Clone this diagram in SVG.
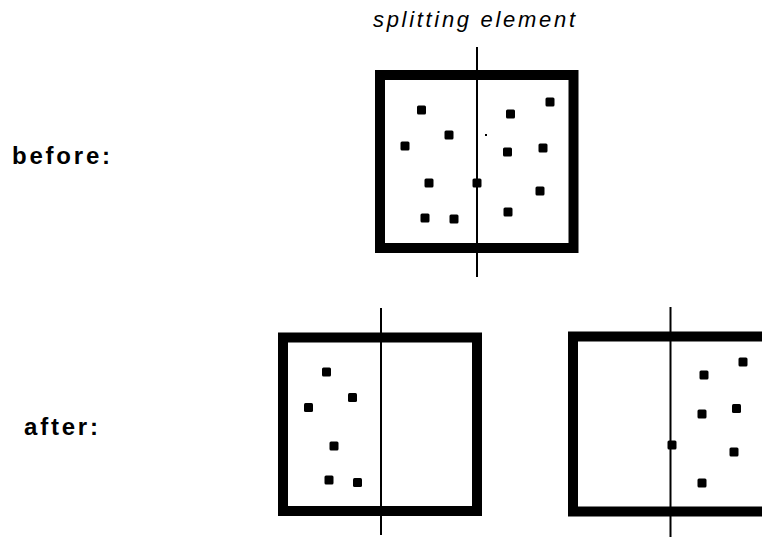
<svg xmlns="http://www.w3.org/2000/svg" width="762" height="537" viewBox="0 0 762 537">
<style>
.box{fill:none;stroke:#000;stroke-width:10}
.axis{stroke:#000;stroke-width:2}
.dot{fill:#000}
.lbl{font-family:"Liberation Sans",Arial,sans-serif;font-weight:bold;font-size:24px;fill:#000}
.ttl{font-family:"Liberation Sans",Arial,sans-serif;font-style:italic;font-size:22px;fill:#000}
</style>
<defs>
<rect id="d" x="-4.5" y="-4.5" width="9" height="9" rx="1.5" class="dot"/>
</defs>
<rect width="762" height="537" fill="#fff"/>
<text class="ttl" x="373" y="27" textLength="202" lengthAdjust="spacing">splitting element</text>
<text class="lbl" x="12" y="164" textLength="98" lengthAdjust="spacing">before:</text>
<text class="lbl" x="24" y="435" textLength="74" lengthAdjust="spacing">after:</text>
<g id="connectors">
<line class="axis" x1="477" y1="47" x2="477" y2="277"/>
<line class="axis" x1="381" y1="308" x2="381" y2="535"/>
<line class="axis" x1="670.5" y1="307" x2="670.5" y2="537"/>
</g>
<g id="before-box">
<rect class="box" x="380" y="75" width="193.5" height="173"/>
<use href="#d" x="421.5" y="110"/>
<use href="#d" x="449" y="135"/>
<use href="#d" x="405" y="146"/>
<use href="#d" x="429" y="183"/>
<use href="#d" x="425" y="218"/>
<use href="#d" x="454" y="219"/>
<use href="#d" x="477" y="183"/>
<use href="#d" x="510.5" y="114"/>
<use href="#d" x="550" y="102"/>
<use href="#d" x="507.5" y="152"/>
<use href="#d" x="543" y="148"/>
<use href="#d" x="540" y="191"/>
<use href="#d" x="508" y="212"/>
<rect x="485" y="134" width="2" height="2" class="dot"/>
</g>
<g id="after-left-box">
<rect class="box" x="283" y="337.5" width="194" height="173.5"/>
<use href="#d" x="326.5" y="372"/>
<use href="#d" x="352.5" y="397.5"/>
<use href="#d" x="308.5" y="407.5"/>
<use href="#d" x="334" y="446"/>
<use href="#d" x="329" y="480"/>
<use href="#d" x="357.5" y="482.5"/>
</g>
<g id="after-right-box">
<rect class="box" x="573" y="336.5" width="194" height="175"/>
<use href="#d" x="704" y="375"/>
<use href="#d" x="743" y="362"/>
<use href="#d" x="702" y="414"/>
<use href="#d" x="736.5" y="408.5"/>
<use href="#d" x="672" y="445"/>
<use href="#d" x="734" y="452"/>
<use href="#d" x="702" y="483"/>
</g>
</svg>
